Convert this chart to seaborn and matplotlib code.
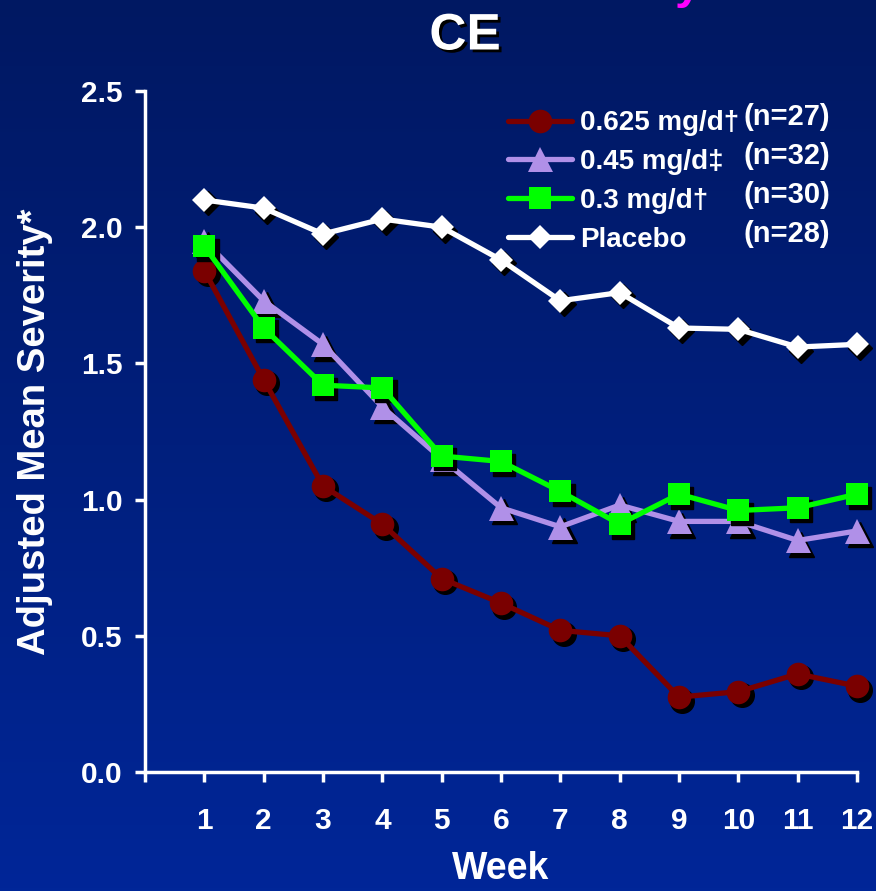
import numpy as np
import pandas as pd
import matplotlib
matplotlib.use("Agg")
import matplotlib.pyplot as plt
import matplotlib.transforms as mtransforms
import matplotlib.patheffects as pe
import seaborn as sns

weeks = [1, 2, 3, 4, 5, 6, 7, 8, 9, 10, 11, 12]
dose_0625 = [1.84, 1.44, 1.05, 0.91, 0.71, 0.62, 0.52, 0.50, 0.275, 0.295, 0.36, 0.315]
dose_045 = [1.95, 1.73, 1.57, 1.34, 1.15, 0.97, 0.90, 0.98, 0.92, 0.92, 0.85, 0.885]
dose_03 = [1.93, 1.63, 1.42, 1.41, 1.16, 1.14, 1.03, 0.91, 1.02, 0.96, 0.97, 1.02]
placebo = [2.10, 2.07, 1.975, 2.03, 2.00, 1.88, 1.73, 1.76, 1.63, 1.625, 1.56, 1.57]

series_labels = ["0.625 mg/d†", "0.45 mg/d‡", "0.3 mg/d†", "Placebo"]
n_labels = ["(n=27)", "(n=32)", "(n=30)", "(n=28)"]
series_values = [dose_0625, dose_045, dose_03, placebo]
colors = ["#7a0000", "#b090e8", "#00ff00", "#ffffff"]
markers = ["o", "^", "s", "D"]
msizes = [17, 18, 16, 12]
yticks = [0.0, 0.5, 1.0, 1.5, 2.0, 2.5]

sns.set_theme(style="white")
plt.rcParams["font.family"] = ["Liberation Sans", "DejaVu Sans"]
plt.rcParams["font.weight"] = "bold"

fig = plt.figure(figsize=(8.76, 8.91), dpi=100)

# gradient background
bg = fig.add_axes([0, 0, 1, 1], zorder=-10)
top = np.array([0, 24, 98]) / 255
bot = np.array([0, 38, 152]) / 255
grad = np.linspace(0, 1, 256)[:, None, None]
img = top * (1 - grad) + bot * grad
img = np.repeat(img, 2, axis=1)
bg.imshow(img, aspect="auto", extent=[0, 1, 0, 1])
bg.set_axis_off()

ax = fig.add_axes([145 / 876, 119 / 891, (857 - 145) / 876, (772 - 91) / 891])
ax.patch.set_alpha(0)

df = pd.DataFrame({
    "Week": weeks * 4,
    "value": sum(series_values, []),
    "series": sum([[l] * 12 for l in series_labels], []),
})

for i, lab in enumerate(series_labels):
    sub = df[df["series"] == lab]
    # marker shadows
    shadow_tr = mtransforms.offset_copy(ax.transData, fig=fig, x=2.5, y=-2.5, units="points")
    ax.plot(sub["Week"], sub["value"], linestyle="none", marker=markers[i],
            markersize=msizes[i], color="black", transform=shadow_tr, zorder=2 + i * 2,
            clip_on=False)
    sns.lineplot(data=sub, x="Week", y="value", ax=ax, color=colors[i], marker=markers[i],
                 markersize=msizes[i], markeredgewidth=0, linewidth=3.8, label=lab,
                 zorder=3 + i * 2, clip_on=False)

ax.set_xlim(0, 12)
ax.set_ylim(0, 2.5)
ax.set_xticks(range(0, 13))
ax.set_xticklabels([""] + [str(w) for w in weeks])
ax.set_yticks(yticks)
ax.set_yticklabels([f"{v:.1f}" for v in yticks])

for s in ["top", "right"]:
    ax.spines[s].set_visible(False)
for s in ["left", "bottom"]:
    ax.spines[s].set_color("white")
    ax.spines[s].set_linewidth(2.5)
ax.tick_params(axis="both", colors="white", direction="out", length=7, width=2.5,
               labelsize=21.5, bottom=True, left=True)
ax.tick_params(axis="x", pad=18)
ax.tick_params(axis="y", pad=9)
for t in ax.get_xticklabels() + ax.get_yticklabels():
    t.set_fontweight("bold")

ax.set_xlabel("Week", color="white", fontsize=27, fontweight="bold", labelpad=12)
ax.set_ylabel("Adjusted Mean Severity*", color="white", fontsize=27.5, fontweight="bold",
              labelpad=20)

leg = ax.legend(loc="upper left", bbox_to_anchor=(0.49, 0.992), frameon=False,
                fontsize=20, handlelength=2.3, handletextpad=0.3, labelspacing=0.46,
                borderpad=0)
for t in leg.get_texts():
    t.set_color("white")
    t.set_fontweight("bold")

n_y = [117, 156, 195, 234]
for nl, yy in zip(n_labels, n_y):
    fig.text(830 / 876, 1 - yy / 891, nl, color="white", fontsize=21, fontweight="bold",
             ha="right", va="center")

fig.text(465 / 876, 1 - 36 / 891, "CE", color="white", fontsize=37, fontweight="bold",
         ha="center", va="center",
         path_effects=[pe.withSimplePatchShadow(offset=(2, -2), shadow_rgbFace="black", alpha=1)])
fig.text(688 / 876, 1 + 2 / 891, "y", color="#ff00ff", fontsize=34, fontweight="bold",
         ha="center", va="baseline")

fig.savefig("out.png", dpi=100)
